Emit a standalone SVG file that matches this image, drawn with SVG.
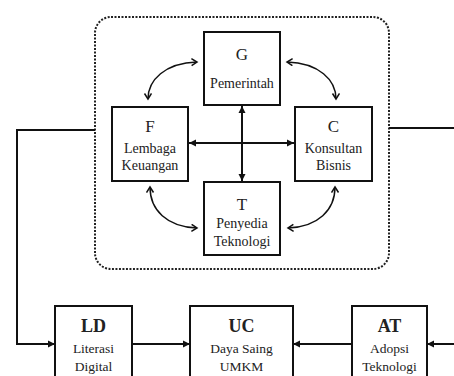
<svg xmlns="http://www.w3.org/2000/svg" width="454" height="376" viewBox="0 0 454 376">
<style>
.box{fill:#fff;stroke:#111;stroke-width:2}
.t{font-family:"Liberation Serif","Times New Roman",serif;fill:#222;text-anchor:middle}
.h{font-size:17px}
.s{font-size:14px}
.hb{font-size:18px;font-weight:bold}
.sb{font-size:13.5px}
.ln{fill:none;stroke:#111;stroke-width:2}
.cv{fill:none;stroke:#111;stroke-width:1.5}
</style>
<defs>
<marker id="fa" markerWidth="8" markerHeight="8" refX="7" refY="4" orient="auto-start-reverse" markerUnits="userSpaceOnUse">
<path d="M0,0.5 L7,4 L0,7.5 z" fill="#111"/>
</marker>
<marker id="oa" markerWidth="10" markerHeight="10" refX="6" refY="4" orient="auto-start-reverse" markerUnits="userSpaceOnUse">
<path d="M0.5,0.5 L6,4 L0.5,7.5" fill="none" stroke="#111" stroke-width="1.5"/>
</marker>
</defs>
<rect x="95" y="17" width="294" height="252" rx="16" fill="none" stroke="#222" stroke-width="2" stroke-dasharray="2,1.5"/>
<g id="connectors">
<path class="cv" d="M148,99 C148,80 165,63 197,62" marker-start="url(#oa)" marker-end="url(#oa)"/>
<path class="cv" d="M287,62 C319,63 336,80 336,99" marker-start="url(#oa)" marker-end="url(#oa)"/>
<path class="cv" d="M150,187 C150,210 167,227 197,228" marker-start="url(#oa)" marker-end="url(#oa)"/>
<path class="cv" d="M335,187 C335,210 318,227 288,228" marker-start="url(#oa)" marker-end="url(#oa)"/>
<path class="ln" d="M189,143 L294,143" marker-start="url(#fa)" marker-end="url(#fa)"/>
<path class="ln" d="M242,106 L242,181" marker-start="url(#fa)" marker-end="url(#fa)"/>
<path class="ln" d="M95,130 L17,130 L17,344 L55,344" marker-end="url(#fa)"/>
<path class="ln" d="M389,128 L454,128"/>
<path class="ln" d="M132,344 L190,344" marker-end="url(#fa)"/>
<path class="ln" d="M352,344 L293,344" marker-end="url(#fa)"/>
<path class="ln" d="M454,344 L427,344" marker-end="url(#fa)"/>
</g>
<g id="G">
<rect class="box" x="204" y="32" width="76" height="73"/>
<text class="t h" x="242" y="60">G</text>
<text class="t s" x="242" y="88">Pemerintah</text>
</g>
<g id="F">
<rect class="box" x="112" y="107" width="76" height="74"/>
<text class="t h" x="150" y="132">F</text>
<text class="t s" x="150" y="153">Lembaga</text>
<text class="t s" x="150" y="170">Keuangan</text>
</g>
<g id="C">
<rect class="box" x="295" y="107" width="77" height="74"/>
<text class="t h" x="333.5" y="132">C</text>
<text class="t s" x="333.5" y="153">Konsultan</text>
<text class="t s" x="333.5" y="170">Bisnis</text>
</g>
<g id="T">
<rect class="box" x="204" y="182" width="76" height="73"/>
<text class="t h" x="242" y="210">T</text>
<text class="t s" x="242" y="228">Penyedia</text>
<text class="t s" x="242" y="246">Teknologi</text>
</g>
<g id="LD">
<rect class="box" x="55" y="306" width="77" height="80"/>
<text class="t hb" x="93.5" y="332">LD</text>
<text class="t sb" x="93.5" y="353">Literasi</text>
<text class="t sb" x="93.5" y="371">Digital</text>
</g>
<g id="UC">
<rect class="box" x="190" y="306" width="103" height="80"/>
<text class="t hb" x="241.5" y="332">UC</text>
<text class="t sb" x="241.5" y="353">Daya Saing</text>
<text class="t sb" x="241.5" y="371">UMKM</text>
</g>
<g id="AT">
<rect class="box" x="352" y="306" width="75" height="80"/>
<text class="t hb" x="389.5" y="332">AT</text>
<text class="t sb" x="389.5" y="353">Adopsi</text>
<text class="t sb" x="389.5" y="371">Teknologi</text>
</g>
</svg>
